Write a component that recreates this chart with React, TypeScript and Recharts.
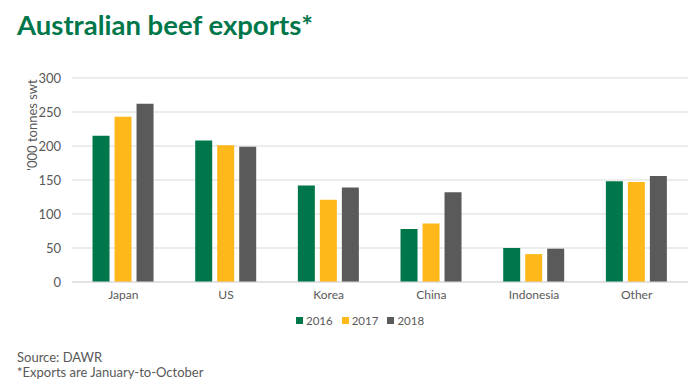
import { Bar, BarChart, CartesianGrid, XAxis, YAxis } from 'recharts'

const CATEGORIES = ['Japan', 'US', 'Korea', 'China', 'Indonesia', 'Other']
const Y2016 = [215, 208, 142, 78, 50, 148]
const Y2017 = [243, 201, 121, 86, 41, 147]
const Y2018 = [262, 199, 139, 132, 49, 156]
const Y_TICKS = [0, 50, 100, 150, 200, 250, 300]

const SERIES = [
  { key: 'y2016', name: '2016', color: '#00774A' },
  { key: 'y2017', name: '2017', color: '#FFB819' },
  { key: 'y2018', name: '2018', color: '#5A5A5A' },
]

const data = CATEGORIES.map((name, i) => ({
  name,
  y2016: Y2016[i],
  y2017: Y2017[i],
  y2018: Y2018[i],
}))

const FONT = 'Lato, "Open Sans", sans-serif'
const GREY = '#595959'

export default function App() {
  return (
    <div style={{ position: 'absolute', left: 0, top: 0, width: 700, height: 390, background: '#fff', fontFamily: FONT }}>
      <div style={{ position: 'absolute', left: 17, top: 8, fontSize: 27.5, fontWeight: 700, color: '#00774A', whiteSpace: 'nowrap' }}>
        Australian beef exports*
      </div>
      <div
        style={{
          position: 'absolute',
          left: 32,
          top: 125,
          transform: 'translate(-50%, -50%) rotate(-90deg)',
          fontSize: 13,
          lineHeight: '14px',
          color: GREY,
          whiteSpace: 'nowrap',
        }}
      >
        '000 tonnes swt
      </div>
      <BarChart
        width={700}
        height={390}
        data={data}
        margin={{ top: 78, right: 12, bottom: 78, left: 22 }}
        barCategoryGap="20%"
        barGap={5}
      >
        <CartesianGrid vertical={false} stroke="#d9d9d9" />
        <XAxis
          dataKey="name"
          height={30}
          tickLine={false}
          axisLine={{ stroke: '#d9d9d9' }}
          tick={{ fill: GREY, fontSize: 12, fontFamily: FONT }}
        />
        <YAxis
          width={50}
          domain={[0, 300]}
          ticks={Y_TICKS}
          tickLine={false}
          axisLine={false}
          tickMargin={5}
          tick={{ fill: GREY, fontSize: 13, fontFamily: FONT }}
        />
        {SERIES.map((s) => (
          <Bar key={s.key} dataKey={s.key} name={s.name} fill={s.color} isAnimationActive={false} />
        ))}
      </BarChart>
      <div style={{ position: 'absolute', left: 296, top: 314, display: 'flex', gap: 9, fontSize: 11.5, color: GREY }}>
        {SERIES.map((s) => (
          <div key={s.key} style={{ display: 'flex', alignItems: 'center', gap: 3 }}>
            <span style={{ width: 7, height: 7, background: s.color, display: 'inline-block' }} />
            <span>{s.name}</span>
          </div>
        ))}
      </div>
      <div style={{ position: 'absolute', left: 17, top: 350, fontSize: 13, color: GREY, lineHeight: '15px' }}>
        <div>Source: DAWR</div>
        <div>*Exports are January-to-October</div>
      </div>
    </div>
  )
}
